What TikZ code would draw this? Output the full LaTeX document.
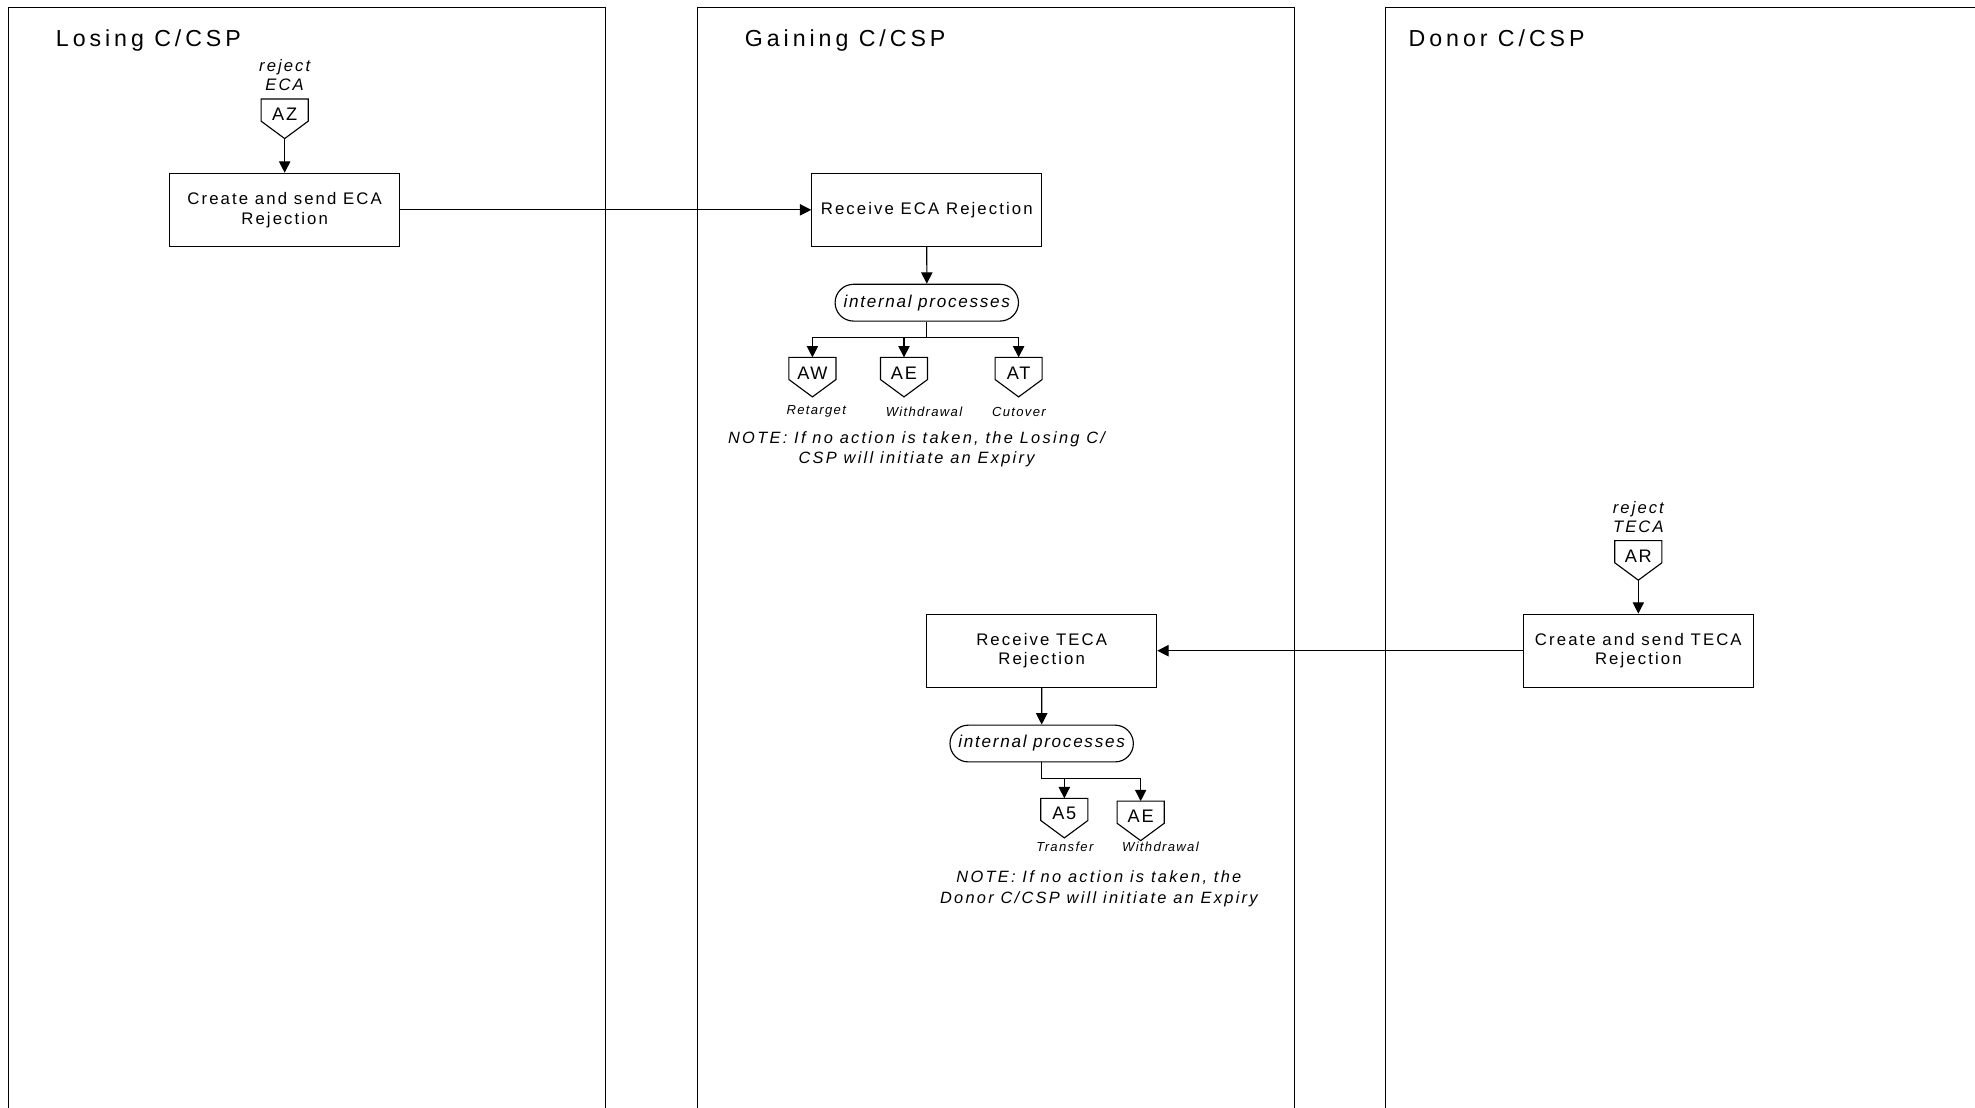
\documentclass[tikz,border=0pt]{standalone}
\usepackage{fontspec}
\setmainfont{Liberation Sans}
\newfontfamily\lanefont{Liberation Sans}[LetterSpace=17]
\newfontfamily\boxfont{Liberation Sans}[LetterSpace=12.5]
\newfontfamily\notefont{Liberation Sans}[LetterSpace=14]
\newfontfamily\tagfont{Liberation Sans}[LetterSpace=10]
\usetikzlibrary{shapes.misc, arrows.meta, positioning}
\tikzstyle{lane} = [line width=0.45pt]
\tikzstyle{lanetitle} = [anchor=base west, inner sep=0pt, font=\lanefont\fontsize{9.2}{11}\selectfont]
\tikzstyle{process} = [rectangle, draw=black, line width=0.45pt, minimum width=91.3pt, minimum height=29pt, align=center, font=\boxfont\fontsize{6.65}{7.9}\selectfont]
\tikzstyle{internal} = [rounded rectangle, draw=black, line width=0.45pt, minimum width=72.8pt, minimum height=14.6pt, inner sep=0pt, font=\tagfont\itshape\fontsize{6.8}{8}\selectfont]
\tikzstyle{offpage} = [rectangle, minimum width=18.3pt, minimum height=7.4pt, text height=8.4pt, text depth=-1pt, inner sep=0pt, anchor=north, font=\tagfont\fontsize{7.2}{8}\selectfont,
    append after command={\pgfextra{\draw[line width=0.45pt] (\tikzlastnode.north west) -- (\tikzlastnode.north east) -- (\tikzlastnode.south east) -- ([yshift=-6.9pt]\tikzlastnode.south) -- (\tikzlastnode.south west) -- cycle;}}]
\tikzstyle{trigger} = [align=center, inner sep=0pt, font=\boxfont\itshape\fontsize{6.6}{7.55}\selectfont]
\tikzstyle{outcome} = [inner sep=0pt, font=\tagfont\itshape\fontsize{5.2}{6}\selectfont]
\tikzstyle{note} = [align=center, inner sep=0pt, font=\notefont\itshape\fontsize{6.5}{8}\selectfont]
\tikzstyle{arrow} = [line width=0.45pt, -{Triangle[length=4.5pt,width=4.5pt]}]

\begin{document}
\begin{tikzpicture}[x=0.5pt, y=-0.5pt]
    \useasboundingbox (0,0) rectangle (1568,879);

    % swimlanes
    \draw[lane] (7,900) -- (7,6) -- (481,6) -- (481,900);
    \draw[lane] (554,900) -- (554,6) -- (1028,6) -- (1028,900);
    \draw[lane] (1100,900) -- (1100,6) -- (1600,6);
    \node (losing) [lanetitle] at (44,37) {Losing C/CSP};
    \node (gaining) [lanetitle] at (591,37) {Gaining C/CSP};
    \node (donor) [lanetitle] at (1118,37) {Donor C/CSP};

    % ECA rejection
    \node (az) [offpage] at (226,78.6) {AZ};
    \node (rejeca) [trigger, above=3pt of az] {reject\\ECA};
    \node (sendeca) [process] at (226,166.6) {Create and send ECA\\Rejection};
    \node (receca) [process] at (735.8,166.6) {Receive ECA Rejection};
    \node (ipeca) [internal, below=14.6pt of receca] {internal processes};
    \coordinate (forkeca) at (735.8,268);
    \node (aw) [offpage] at (645,283.7) {AW};
    \node (aeeca) [offpage] at (717.7,283.7) {AE};
    \node (at) [offpage] at (808.7,283.7) {AT};
    \node (retarget) [outcome] at (648,326.8) {Retarget};
    \node (wdeca) [outcome] at (733.6,326.8) {Withdrawal};
    \node (cutover) [outcome] at (808.9,326.8) {Cutover};
    \node (noteeca) [note] at (727.7,356.5) {NOTE: If no action is taken, the Losing C/\\CSP will initiate an Expiry};

    \draw[arrow] ([yshift=-6.9pt]az.south) -- (sendeca.north);
    \draw[arrow] (sendeca) -- (receca);
    \draw[arrow] (receca) -- (ipeca);
    \draw[line width=0.45pt] (ipeca.south) -- (forkeca);
    \draw[arrow] (forkeca) -| (aw.north);
    \draw[arrow] (forkeca) -| (aeeca.north);
    \draw[arrow] (forkeca) -| (at.north);

    % TECA rejection
    \node (ar) [offpage] at (1300.7,429.2) {AR};
    \node (rejteca) [trigger, above=3pt of ar] {reject\\TECA};
    \node (sendteca) [process] at (1300.7,516.6) {Create and send TECA\\Rejection};
    \node (recteca) [process] at (827,516.6) {Receive TECA\\Rejection};
    \node (ipteca) [internal, below=14.6pt of recteca] {internal processes};
    \coordinate (forkteca) at (827,618.4);
    \node (a5) [offpage] at (845,633.8) {A5};
    \node (aeteca) [offpage] at (905.6,636) {AE};
    \node (transfer) [outcome] at (845.5,672.2) {Transfer};
    \node (wdteca) [outcome] at (921.3,672.2) {Withdrawal};
    \node (noteteca) [note] at (872.4,705.6) {NOTE: If no action is taken, the\\Donor C/CSP will initiate an Expiry};

    \draw[arrow] ([yshift=-6.9pt]ar.south) -- (sendteca.north);
    \draw[arrow] (sendteca) -- (recteca);
    \draw[arrow] (recteca) -- (ipteca);
    \draw[line width=0.45pt] (ipteca.south) -- (forkteca);
    \draw[arrow] (forkteca) -| (a5.north);
    \draw[arrow] (forkteca) -| (aeteca.north);
\end{tikzpicture}
\end{document}
